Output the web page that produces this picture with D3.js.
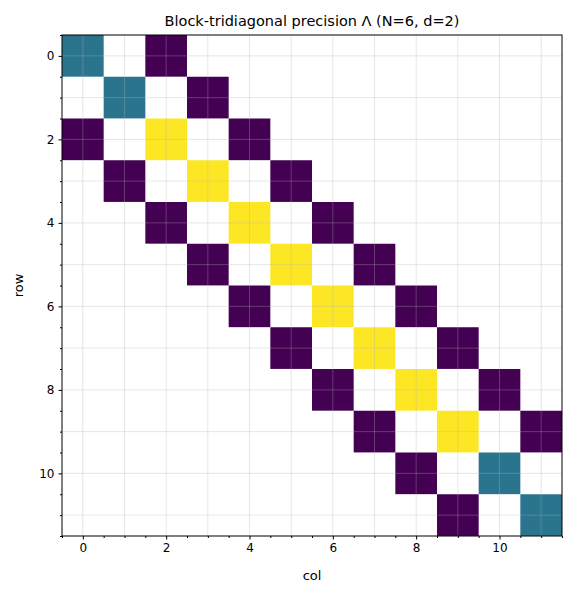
<!DOCTYPE html><html><head><script src="https://cdn.jsdelivr.net/npm/d3@7"></script>
<style>body{margin:0;background:#fff;font-family:"DejaVu Sans",sans-serif}</style></head><body><svg id="c" width="573" height="594"></svg>
<script>
const N = 12;
const diagValues = [0.15,0.15,2,2,2,2,2,2,2,2,0.15,0.15];
const offValue = -1;
const offsets = [2,-2];
const tickLabels = [0,2,4,6,8,10];
const cells=[];
for(let i=0;i<N;i++){cells.push({r:i,c:i,v:diagValues[i]});for(const o of offsets){const j=i+o;if(j>=0&&j<N)cells.push({r:i,c:j,v:offValue});}}
const svg=d3.select("#c");
const L=62,R=562,T=35,B=536;
const x=d3.scaleLinear().domain([-0.5,N-0.5]).range([L,R]);
const y=d3.scaleLinear().domain([-0.5,N-0.5]).range([T,B]);
const col=d3.scaleSequential(d3.interpolateViridis).domain([-1,2]);
const cw=x(1)-x(0);
svg.append("g").selectAll("rect").data(cells).join("rect").attr("x",d=>x(d.c-0.5)).attr("y",d=>y(d.r-0.5)).attr("width",cw).attr("height",cw).attr("fill",d=>col(d.v));
const grid=svg.append("g").attr("stroke","#b0b0b0").attr("stroke-opacity",0.4).attr("stroke-width",0.8);
d3.range(N).forEach(k=>{grid.append("line").attr("x1",x(k)).attr("x2",x(k)).attr("y1",T).attr("y2",B);grid.append("line").attr("y1",y(k)).attr("y2",y(k)).attr("x1",L).attr("x2",R);});
const minor=d3.range(-0.5,N,0.5).filter(v=>tickLabels.indexOf(v)<0);
const xa=d3.axisBottom(x).tickValues(tickLabels).tickSize(3.5).tickPadding(4);
const ya=d3.axisLeft(y).tickValues(tickLabels).tickSize(3.5).tickPadding(4);
const gx=svg.append("g").attr("transform",`translate(0,${B})`).call(xa);
const gy=svg.append("g").attr("transform",`translate(${L},0)`).call(ya);
gx.append("g").call(d3.axisBottom(x).tickValues(minor).tickSize(2).tickFormat(""));
gy.append("g").call(d3.axisLeft(y).tickValues(minor).tickSize(2).tickFormat(""));
[gx,gy].forEach(g=>{g.selectAll("text").attr("font-size",12).attr("fill","#000").attr("font-family","DejaVu Sans");g.selectAll(".domain").remove();g.selectAll("line").attr("stroke","#000");});
svg.append("rect").attr("x",L).attr("y",T).attr("width",R-L).attr("height",B-T).attr("fill","none").attr("stroke","#000").attr("stroke-width",1);
svg.append("text").attr("x",(L+R)/2).attr("y",26).attr("text-anchor","middle").attr("font-size",14.5).text("Block-tridiagonal precision Λ  (N=6, d=2)");
svg.append("text").attr("x",(L+R)/2).attr("y",580).attr("text-anchor","middle").attr("font-size",13).text("col");
svg.append("text").attr("transform",`translate(23,${(T+B)/2}) rotate(-90)`).attr("text-anchor","middle").attr("font-size",13).text("row");
</script></body></html>
